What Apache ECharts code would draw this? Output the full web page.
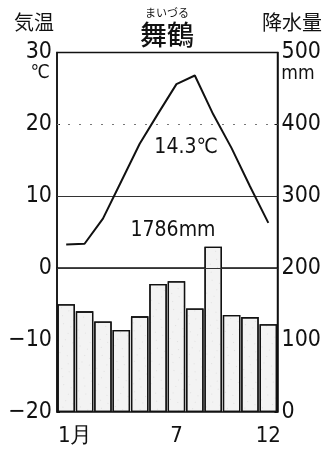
<!DOCTYPE html>
<html><head><meta charset="utf-8">
<script src="https://cdn.jsdelivr.net/npm/echarts@6/dist/echarts.min.js"></script>
<style>html,body{margin:0;padding:0;background:#fff}#c{width:324px;height:454px}</style>
</head><body><div id="c"></div>
<script>
var months = ['1月','2','3','4','5','6','7','8','9','10','11','12'];
var shownMonths = [0, 6, 11];
var temperature = [3.3, 3.4, 6.9, 12.1, 17.3, 21.5, 25.6, 26.8, 21.4, 16.7, 11.4, 6.3];
var precipitation = [150, 140, 126, 114, 133, 178, 182, 144, 230, 135, 132, 122];
var tempTicks = [-20, -10, 0, 10, 20, 30];
var rainTicks = [0, 100, 200, 300, 400, 500];
var cityName = '舞鶴';
var cityRuby = 'まいづる';
var meanTempLabel = '14.3℃';
var totalRainLabel = '1786mm';

var F = '"DejaVu Sans Condensed","Liberation Sans Narrow",sans-serif';
var catData = months.map(function(m, i){
  return i === 0 ? {value: m, textStyle: {padding: [0, 0, 0, 18]}} : m;
});
var chart = echarts.init(document.getElementById('c'), null, {renderer:'canvas'});
chart.setOption({
  animation: false,
  backgroundColor: '#fff',
  grid: {left: 57, right: 46, top: 52.5, bottom: 42, show: true, borderColor: '#111', borderWidth: 1.5, backgroundColor: 'transparent'},
  xAxis: {
    type: 'category', data: catData,
    axisLine: {lineStyle: {color: '#111', width: 1.5}},
    axisTick: {show: false},
    axisLabel: {
      interval: function(i){ return shownMonths.indexOf(i) >= 0; },
      color: '#111', fontFamily: F, fontSize: 22, margin: 13
    }
  },
  yAxis: [{
    type: 'value', min: tempTicks[0], max: tempTicks[tempTicks.length-1], interval: 10,
    axisLine: {show: true, lineStyle: {color: '#111', width: 1.5}},
    axisTick: {show: true, inside: true, length: 3, lineStyle: {color: '#111'}},
    splitLine: {show: false},
    axisLabel: {color: '#111', fontFamily: F, fontSize: 23, margin: 5,
      formatter: function(v){ return v < 0 ? '−' + Math.abs(v) : String(v); }}
  }, {
    type: 'value', min: rainTicks[0], max: rainTicks[rainTicks.length-1], interval: 100,
    axisLine: {show: true, lineStyle: {color: '#111', width: 1.5}},
    axisTick: {show: true, inside: true, length: 3, lineStyle: {color: '#111'}},
    splitLine: {show: false},
    axisLabel: {color: '#111', fontFamily: F, fontSize: 23, margin: 4}
  }],
  series: [{
    type: 'bar', yAxisIndex: 1, data: precipitation,
    barCategoryGap: '5%',
    itemStyle: {
      color: '#f3f3f3', borderColor: '#111', borderWidth: 1.3,
      decal: {symbol: 'circle', symbolSize: 0.5, color: 'rgba(0,0,0,0.45)', dashArrayX: [[1, 7], [1, 11]], dashArrayY: [1, 6], rotation: 0.4}
    },
    z: 2
  }, {
    type: 'line', yAxisIndex: 0, data: temperature,
    symbol: 'none', lineStyle: {color: '#111', width: 2},
    z: 5,
    markLine: {
      silent: true, symbol: 'none', label: {show: false},
      data: [
        {yAxis: 10, lineStyle: {color: '#333', width: 1.2, type: 'solid'}},
        {yAxis: 0, lineStyle: {color: '#333', width: 1.2, type: 'solid'}},
        {yAxis: 20, lineStyle: {color: '#777', width: 1, type: [2, 9]}}
      ]
    }
  }],
  graphic: [
    {type: 'text', left: 14, top: 12, style: {text: '気温', font: '20px "Noto Sans CJK JP"', fill: '#111'}},
    {type: 'text', right: 2, top: 12, style: {text: '降水量', font: '20px "Noto Sans CJK JP"', fill: '#111'}},
    {type: 'text', x: 167, y: 13, style: {text: cityRuby, font: '11px "Noto Sans CJK JP"', fill: '#111', align: 'center', verticalAlign: 'middle'}},
    {type: 'text', x: 167, y: 35, style: {text: cityName, font: '500 27px "Noto Sans CJK JP"', fill: '#111', align: 'center', verticalAlign: 'middle'}},
    {type: 'text', x: 40, y: 73, style: {text: '℃', font: '19px ' + F, fill: '#111', align: 'center', verticalAlign: 'middle'}},
    {type: 'text', x: 298, y: 74, style: {text: 'mm', font: '19px ' + F, fill: '#111', align: 'center', verticalAlign: 'middle'}},
    {type: 'text', x: 186, y: 148, z: 10, style: {text: meanTempLabel, font: '21px ' + F, fill: '#111', align: 'center', verticalAlign: 'middle'}},
    {type: 'text', x: 173, y: 231, z: 10, style: {text: totalRainLabel, font: '21px ' + F, fill: '#111', align: 'center', verticalAlign: 'middle'}}
  ]
});
</script></body></html>
